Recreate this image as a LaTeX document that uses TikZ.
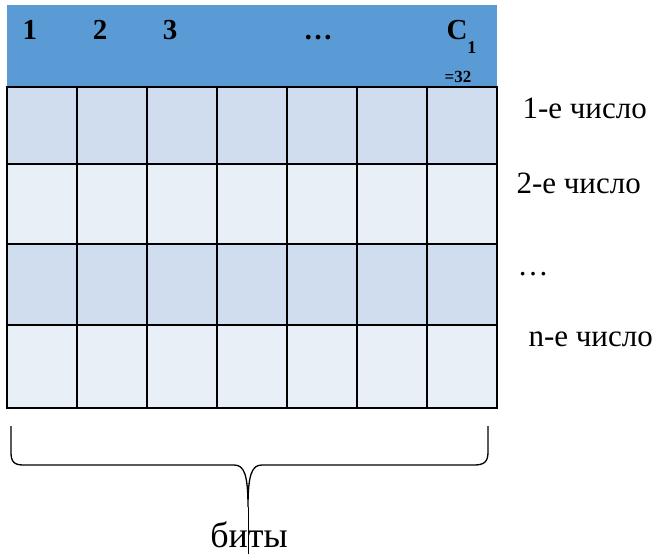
\documentclass[tikz,border=0pt]{standalone}
\usepackage{fontspec}
\setmainfont{Liberation Serif}
\definecolor{headblue}{HTML}{5B9BD5}
\definecolor{rowdark}{HTML}{CFDDEE}
\definecolor{rowlight}{HTML}{E9EFF7}

\begin{document}
\begin{tikzpicture}[x=1pt, y=-1pt,
        hdr/.style = {font=\fontsize{29}{31}\selectfont\bfseries, anchor=base},
        num/.style = {font=\fontsize{31}{33}\selectfont, anchor=base west}]
        \useasboundingbox (0,0) rectangle (656,554);

        % header strip and rows
        \fill[headblue] (7,5) rectangle (497,87);
        \foreach \a/\b/\c in {87/164/rowdark, 164/244/rowlight, 244/325/rowdark, 325/408/rowlight}
            \fill[\c] (7,\a) rectangle (497,\b);
        \foreach \x in {7,77,...,497}
            \draw[line width=2.6pt] (\x,87) -- (\x,408);
        \foreach \y in {87,164,244,325,408}
            \draw[line width=2.6pt] (5.7,\y) -- (498.3,\y);

        \node[hdr] (b1) at (30,39) {1};
        \node[hdr] (b2) at (100,39) {2};
        \node[hdr] (b3) at (170,39) {3};
        \node[hdr] (bdots) at (318,39) {\dots};
        \node[hdr, anchor=base west] (bc) at (443,39) {C\raisebox{-1.1ex}{\fontsize{18}{19}\selectfont 1}};
        \node[font=\fontsize{17}{18}\selectfont\bfseries, anchor=base] (b32) at (458,82) {=32};

        \node[num] (n1) at (519,118) {1-е число};
        \node[num] (n2) at (513,193) {2-е число};
        \node[num] (ndots) at (514,275) {\dots};
        \node[num] (nn) at (525,346) {n-е число};

        % brace under the bits
        \draw[line width=1.3pt] (11,426) -- (11,452) .. controls (11,462) and (14,465) .. (24,465)
            -- (234,465) .. controls (244,465) and (248,474) .. (248,507)
            .. controls (248,474) and (252,465) .. (262,465) -- (474,465)
            .. controls (484,465) and (488,462) .. (488,452) -- (488,426);
        \coordinate (tip) at (248,507);
        \node[font=\fontsize{36}{38}\selectfont, anchor=base, inner sep=0pt] (bits) at (249,547) {биты};
        \coordinate (foot) at (248,554);
        \draw[line width=.6pt] (tip) -- (foot);
\end{tikzpicture}
\end{document}
